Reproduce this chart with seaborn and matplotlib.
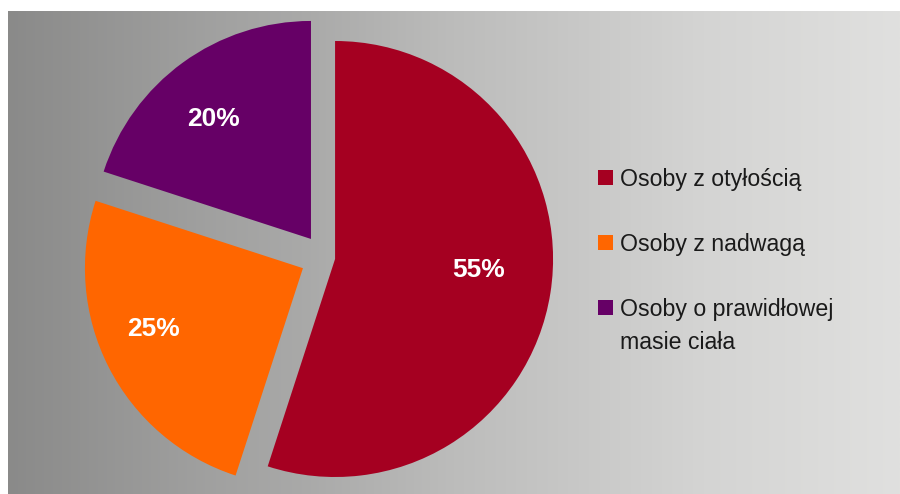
import numpy as np
import matplotlib
matplotlib.use("Agg")
import matplotlib.pyplot as plt
from matplotlib.patches import Rectangle
import seaborn as sns


# =====================================================
# DATA
# =====================================================

categories = [
    "Osoby z otyłością",
    "Osoby z nadwagą",
    "Osoby o prawidłowej\nmasie ciała",
]

shares = [55, 25, 20]

colors = ["#A50021", "#FF6600", "#660066"]


# =====================================================
# STYLE
# =====================================================

sns.set_style("white")

NARROW = ["Liberation Sans Narrow", "Liberation Sans", "DejaVu Sans"]

plt.rcParams["font.family"] = NARROW

W, H = 900, 494

explode = [0.05, 0.11, 0.104]

# label placement tweak per slice (distance from apex, angle shift)
label_dist = [0.66, 0.74, 0.71]
label_shift = [4.6, -4.7, 3.0]


# =====================================================
# FIGURE + GRADIENT BACKGROUND
# =====================================================

fig = plt.figure(figsize=(W / 100, H / 100), dpi=100)

fig.patch.set_facecolor("white")

bg = fig.add_axes([8 / W, 0, (W - 8) / W, (H - 11) / H])

stops_x = [0.0, 0.22, 0.33, 0.5, 0.78, 1.0]
stops_v = [138, 160, 169, 188, 212, 224]

xs = np.linspace(0, 1, 600)
vals = np.interp(xs, stops_x, stops_v) / 255.0

grad = np.stack([vals, vals, vals * 0.995], axis=-1)[None, :, :]

bg.imshow(grad, aspect="auto", extent=[0, 1, 0, 1])

bg.set_axis_off()


# =====================================================
# PIE  (radius 1 -> 218 px)
# =====================================================

ax = fig.add_axes([0, 0, 1, 1])

ax.patch.set_alpha(0)

cx, cy, R_PX = 324.3, H - 257.3, 218.0

wedges, texts, autotexts = ax.pie(
    shares,
    colors=colors,
    explode=explode,
    startangle=90,
    counterclock=False,
    autopct="%1.0f%%",
    pctdistance=0.7,
    textprops=dict(color="white", fontsize=19, fontweight="bold", family=NARROW),
    wedgeprops=dict(linewidth=0),
)

for w, t, d, s in zip(wedges, autotexts, label_dist, label_shift):

    ang = np.deg2rad((w.theta1 + w.theta2) / 2 + s)

    x0, y0 = w.center

    t.set_position((x0 + d * w.r * np.cos(ang), y0 + d * w.r * np.sin(ang)))

    t.set_ha("center")
    t.set_va("center")


ax.set_xlim(-cx / R_PX, (W - cx) / R_PX)
ax.set_ylim(-cy / R_PX, (H - cy) / R_PX)
ax.set_aspect("equal")
ax.set_axis_off()


# =====================================================
# LEGEND (manual, pixel axes)
# =====================================================

lg = fig.add_axes([0, 0, 1, 1])

lg.patch.set_alpha(0)

lg.set_xlim(0, W)
lg.set_ylim(0, H)
lg.set_axis_off()

base0 = 186
step = 65
line_gap = 33

for i, (lab, col) in enumerate(zip(categories, colors)):

    base = base0 + i * step

    lg.add_patch(
        Rectangle((598, H - base + 1), 15, 15, facecolor=col, edgecolor="none")
    )

    for j, line in enumerate(lab.split("\n")):

        lg.text(
            620,
            H - (base + j * line_gap),
            line,
            fontsize=16.7,
            color="#1a1a1a",
            ha="left",
            va="baseline",
            family=NARROW,
        )


fig.savefig("out.png", dpi=100)

plt.close()
